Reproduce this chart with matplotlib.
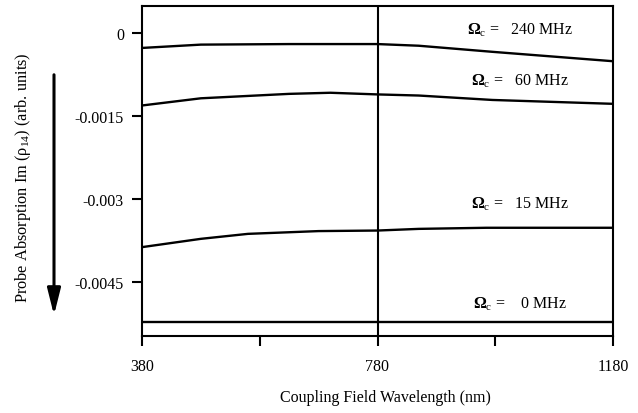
import matplotlib
matplotlib.use("Agg")
import matplotlib.pyplot as plt
from matplotlib.patches import FancyArrowPatch

plt.rcParams['font.family'] = ['Liberation Serif', 'DejaVu Serif']
plt.rcParams['mathtext.fontset'] = 'custom'
plt.rcParams['mathtext.rm'] = 'Liberation Serif'
plt.rcParams['mathtext.it'] = 'Liberation Serif:italic'
plt.rcParams['mathtext.bf'] = 'Liberation Serif:bold'

# Data
wl_240 = [380, 480, 630, 780, 850, 975, 1180]
abs_240 = [-0.00027, -0.00021, -0.00020, -0.00020, -0.00023, -0.00034, -0.00051]
wl_60 = [380, 480, 630, 700, 780, 850, 975, 1180]
abs_60 = [-0.00131, -0.00118, -0.00110, -0.00108, -0.00111, -0.00113, -0.00121, -0.00128]
wl_15 = [380, 480, 560, 680, 780, 850, 965, 1180]
abs_15 = [-0.00387, -0.00372, -0.00363, -0.00358, -0.00357, -0.00354, -0.00352, -0.00352]
wl_0 = [380, 1180]
abs_0 = [-0.00523, -0.00523]
labels = [r'$\mathbf{\Omega}_{\rm c}$ =   240 MHz', r'$\mathbf{\Omega}_{\rm c}$ =   60 MHz',
          r'$\mathbf{\Omega}_{\rm c}$ =   15 MHz', r'$\mathbf{\Omega}_{\rm c}$ =    0 MHz']
label_y = [0.00007, -0.00085, -0.00308, -0.00489]
xticks = [380, 580, 780, 980, 1180]
xticklabels = ['380', '', '780', '', '1180']
yticks = [0, -0.0015, -0.003, -0.0045]
yticklabels = ['0', '-0.0015', '-0.003', '-0.0045']

fig = plt.figure(figsize=(6.38, 4.14), dpi=100)
ax = fig.add_axes([142/638, 1-337/414, (613-142)/638, (337-7)/414])

for xs, ys in [(wl_240, abs_240), (wl_60, abs_60), (wl_15, abs_15), (wl_0, abs_0)]:
    ax.plot(xs, ys, color='black', lw=1.7)

ax.axvline(780, color='black', lw=1.5)

for lab, yy in zip(labels, label_y):
    ax.text(1022, yy, lab, ha='center', va='center', fontsize=11.5)

ax.set_xlim(380, 1180)
ax.set_ylim(-0.005476, 0.000488)
ax.set_xticks(xticks)
ax.set_xticklabels(xticklabels)
ax.set_yticks(yticks)
ax.set_yticklabels(yticklabels)
ax.tick_params(direction='out', length=7, width=1.5, labelsize=11.5)
ax.tick_params(axis='y', pad=6)
ax.tick_params(axis='x', pad=9)
for s in ax.spines.values():
    s.set_linewidth(1.5)

fig.text(385/638, 1-398/414, 'Coupling Field Wavelength (nm)', ha='center', va='center',
         fontsize=11.5)
fig.text(23/638, 1-178/414, 'Probe Absorption Im (ρ$_{\\rm 14}$) (arb. units)',
         rotation=90, ha='center', va='center', fontsize=11.8)

arr = FancyArrowPatch((54/638, 1-73/414), (54/638, 1-319/414), transform=fig.transFigure,
                      arrowstyle='-|>,head_length=1.6,head_width=0.4', mutation_scale=10,
                      lw=2.2, color='black')
fig.add_artist(arr)

fig.savefig('out.png', dpi=100)
